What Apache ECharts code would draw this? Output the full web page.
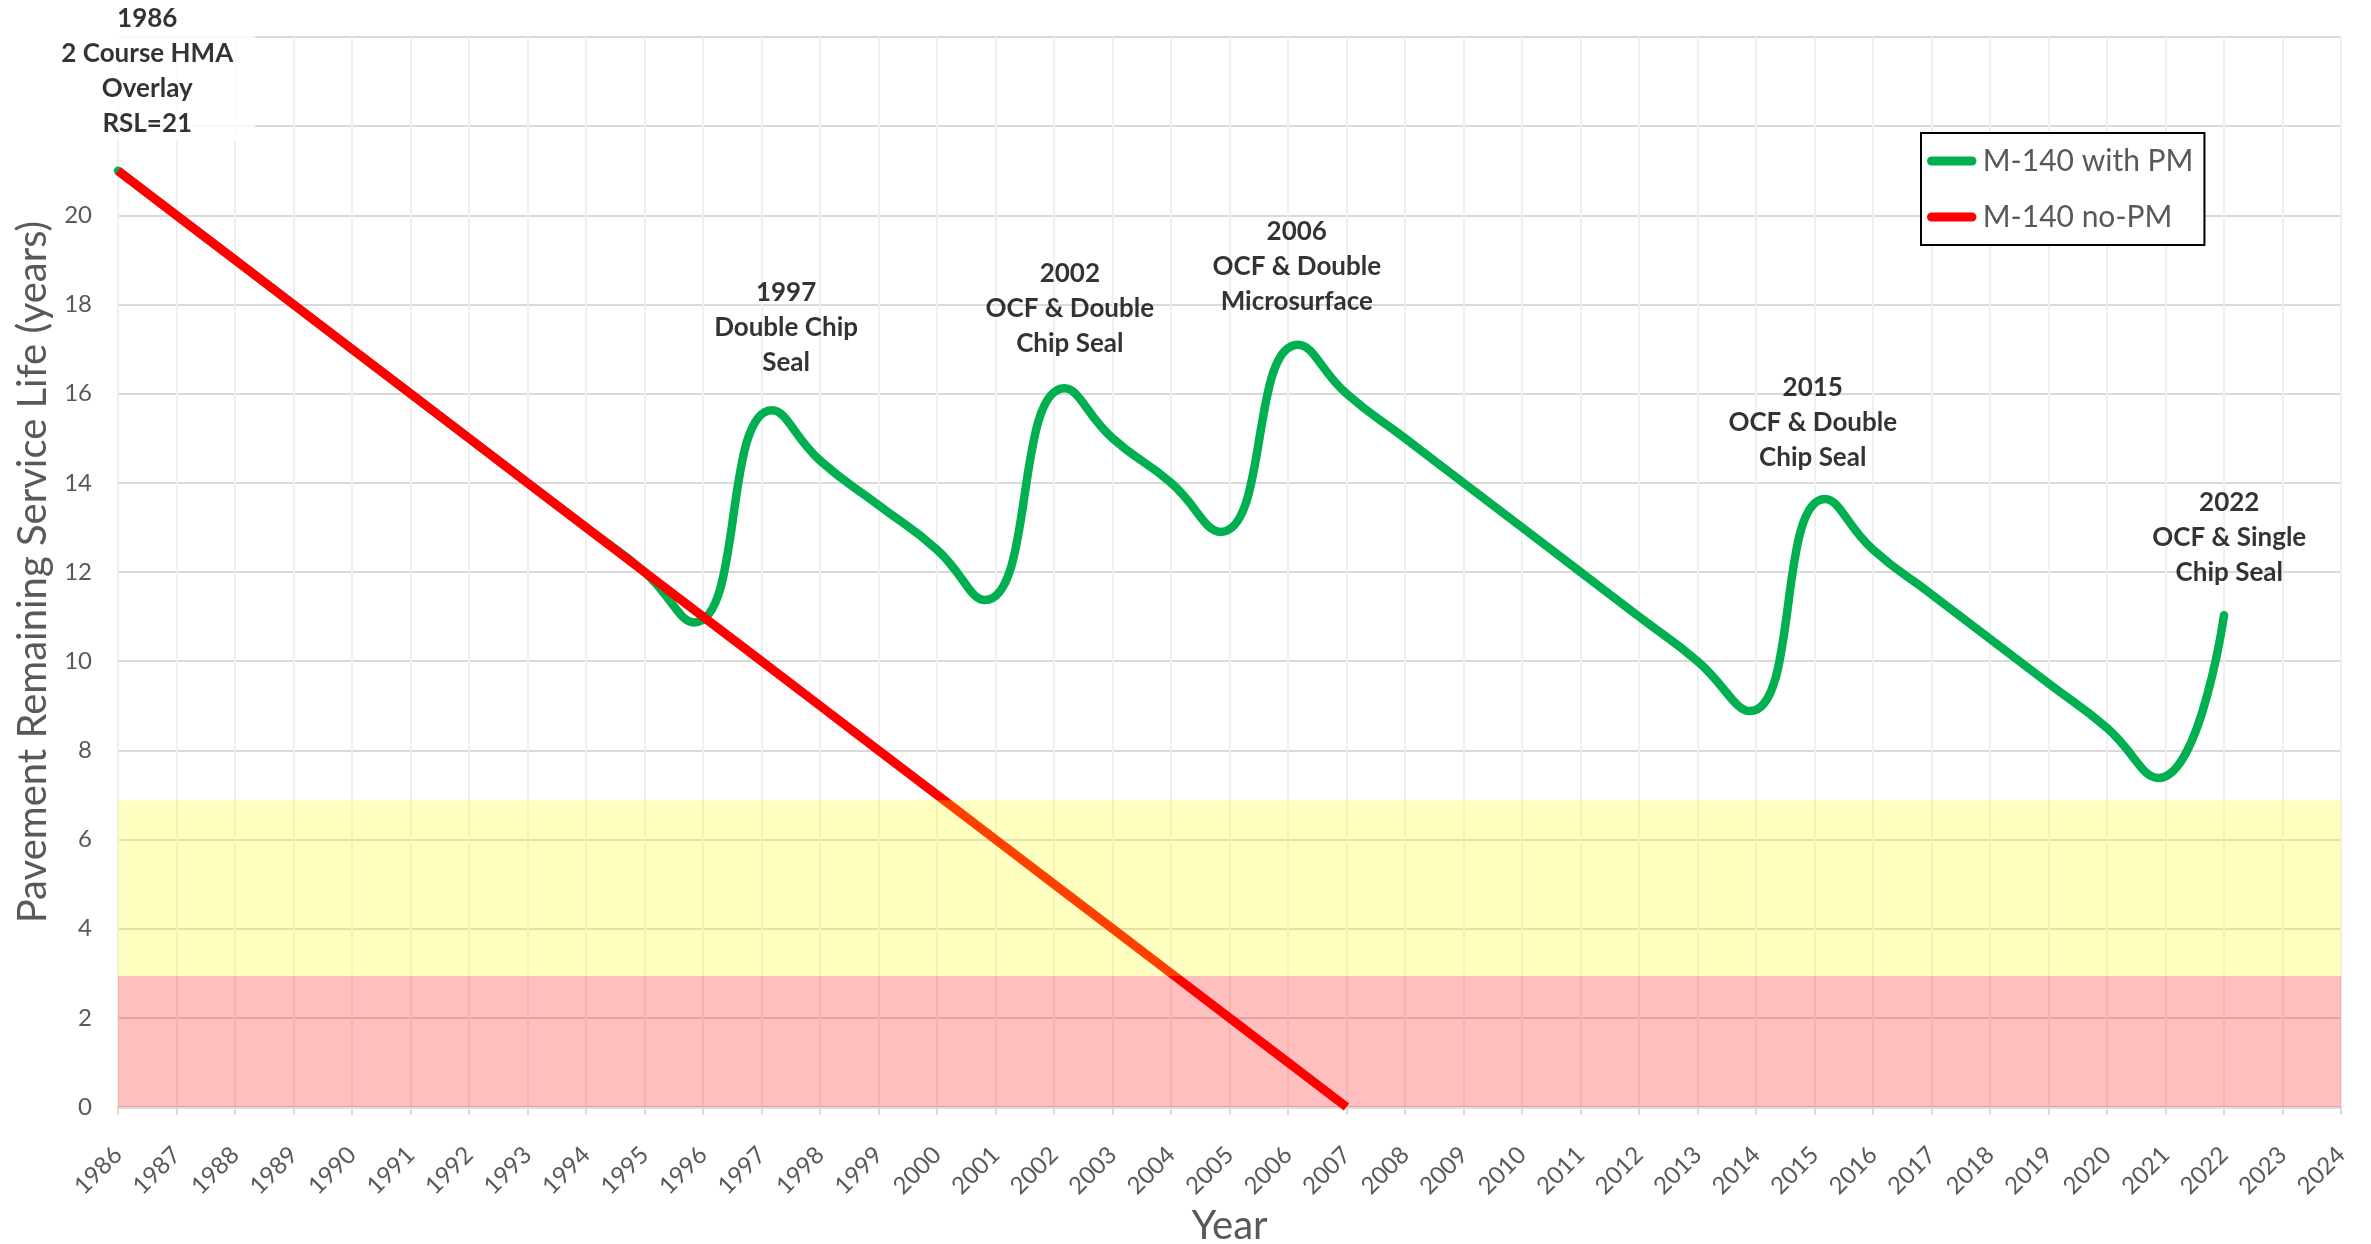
<!DOCTYPE html>
<html>
<head>
<meta charset="utf-8">
<script src="https://cdn.jsdelivr.net/npm/echarts@6/dist/echarts.min.js"></script>
<style>
html,body{margin:0;padding:0;background:#ffffff;}
#chart{width:2371px;height:1244px;}
</style>
</head>
<body>
<div id="chart"></div>
<script>
// ---------------- data ----------------
// M-140 with PM: yearly values plus the visible dips / peaks of the curve
const withPMYears  = [1986,1987,1988,1989,1990,1991,1992,1993,1994,1995,1995.85,1997.18,1998,1999,2000,2000.82,2002.18,2003,2004,2004.85,2006.17,2007,2008,2009,2010,2011,2012,2013,2013.9,2015.18,2016,2017,2018,2019,2020,2020.88,2022];
const withPMValues = [21,20,19,18,17,16,15,14,13,12,10.87,15.63,14.5,13.5,12.5,11.37,16.12,15,14,12.9,17.1,16,15,14,13,12,11,10,8.88,13.64,12.5,11.5,10.5,9.5,8.5,7.38,11.03];
// M-140 no-PM
const noPMYears    = [1986,1987,1988,1989,1990,1991,1992,1993,1994,1995,1996,1997,1998,1999,2000,2001,2002,2003,2004,2005,2006,2007];
const noPMValues   = [21,20,19,18,17,16,15,14,13,12,11,10,9,8,7,6,5,4,3,2,1,0];

const yearMin = 1986, yearMax = 2024;
const yTickLabels = [0,2,4,6,8,10,12,14,16,18,20];

// condition bands (RSL years)
const bandYears = [1986, 2024];
const poorTop   = [2.94, 2.94];
const fairTop   = [6.88, 6.88];

// treatment annotations (anchor year, RSL level, text)
const annoYears = [1986.5, 1997.42, 2002.27, 2006.15, 2014.97, 2022.09];
const annoRSL   = [23.24, 17.49, 17.91, 18.86, 15.34, 12.78];
const annoTexts = [
  '1986\n2 Course HMA\nOverlay\nRSL=21',
  '1997\nDouble Chip\nSeal',
  '2002\nOCF & Double\nChip Seal',
  '2006\nOCF & Double\nMicrosurface',
  '2015\nOCF & Double\nChip Seal',
  '2022\nOCF & Single\nChip Seal'
];

// ---------------- chart ----------------
const FONT = 'Lato';
const chart = echarts.init(document.getElementById('chart'), null, {renderer: 'canvas'});

const pill = 'path://M5,0 L50,0 A5,5 0 0 1 50,10 L5,10 A5,5 0 0 1 5,0 Z';

chart.setOption({
  animation: false,
  backgroundColor: '#ffffff',
  textStyle: {fontFamily: FONT},
  grid: {left: 118, right: 30, top: 37, bottom: 137, containLabel: false, outerBoundsMode: 'none'},
  legend: {
    data: [
      {name: 'M-140 with PM', icon: pill},
      {name: 'M-140 no-PM', icon: pill}
    ],
    orient: 'vertical',
    left: 1921, top: 133,
    itemWidth: 54, itemHeight: 9,
    itemGap: 26,
    padding: [13, 11, 13, 6],
    borderColor: '#000000', borderWidth: 2,
    backgroundColor: '#ffffff',
    textStyle: {fontFamily: FONT, fontSize: 30, color: '#595959', lineHeight: 30, padding: [0,0,0,-1]},
    selectedMode: false
  },
  xAxis: {
    type: 'value',
    min: yearMin, max: yearMax, interval: 1,
    name: 'Year',
    nameLocation: 'middle',
    nameGap: 83,
    nameTextStyle: {fontFamily: FONT, fontSize: 40, color: '#595959'},
    axisLine: {show: true, lineStyle: {color: '#D9D9D9', width: 2.5}},
    axisTick: {show: true, length: 8, lineStyle: {color: '#D9D9D9', width: 2}},
    axisLabel: {
      rotate: 45, margin: 44,
      fontFamily: FONT, fontSize: 24, color: '#595959',
      formatter: v => String(v)
    },
    splitLine: {show: true, lineStyle: {color: '#EFEFEF', width: 2}}
  },
  yAxis: {
    type: 'value',
    min: 0, max: 24, interval: 2,
    name: 'Pavement Remaining Service Life (years)',
    nameLocation: 'middle',
    nameGap: 60,
    nameTextStyle: {fontFamily: FONT, fontSize: 40, color: '#595959'},
    axisLine: {show: false},
    axisTick: {show: false},
    axisLabel: {
      margin: 26, fontFamily: FONT, fontSize: 24, color: '#595959',
      formatter: v => (yTickLabels.indexOf(v) >= 0 ? String(v) : '')
    },
    splitLine: {show: true, lineStyle: {color: '#D9D9D9', width: 2}}
  },
  series: [
    {
      name: 'M-140 with PM',
      type: 'line',
      data: withPMYears.map((y, i) => [y, withPMValues[i]]),
      smooth: 0.5,
      symbol: 'none',
      color: '#00B050',
      lineStyle: {color: '#00B050', width: 8.5, cap: 'round', join: 'round'},
      z: 2, silent: true
    },
    {
      name: 'M-140 no-PM',
      type: 'line',
      data: noPMYears.map((y, i) => [y, noPMValues[i]]),
      symbol: 'none',
      color: '#FF0000',
      lineStyle: {color: '#FF0000', width: 9, cap: 'butt', join: 'round'},
      z: 2, silent: true
    },
    {
      name: 'poor band',
      type: 'line',
      data: bandYears.map((y, i) => [y, poorTop[i]]),
      symbol: 'none',
      lineStyle: {width: 0, opacity: 0},
      areaStyle: {color: 'rgba(255,0,0,0.25)', opacity: 1, origin: 0},
      z: 3, silent: true
    },
    {
      name: 'fair band',
      type: 'line',
      data: bandYears.map((y, i) => [y, fairTop[i]]),
      symbol: 'none',
      lineStyle: {width: 0, opacity: 0},
      areaStyle: {color: 'rgba(255,255,0,0.25)', opacity: 1, origin: poorTop[0]},
      z: 3, silent: true
    },
    {
      name: 'annotations',
      type: 'scatter',
      symbolSize: 0,
      silent: true,
      z: 4,
      data: annoYears.map((x, i) => {
        const item = {value: [x, annoRSL[i]], name: annoTexts[i]};
        if (i === 0) item.label = {backgroundColor: '#ffffff', padding: [0, 22, 0, 22]};
        return item;
      }),
      label: {
        show: true,
        position: 'inside',
        formatter: '{b}',
        fontFamily: FONT, fontWeight: 'bold', fontSize: 26, lineHeight: 35,
        color: '#000000', align: 'center', verticalAlign: 'middle'
      }
    }
  ]
});
</script>
</body>
</html>
